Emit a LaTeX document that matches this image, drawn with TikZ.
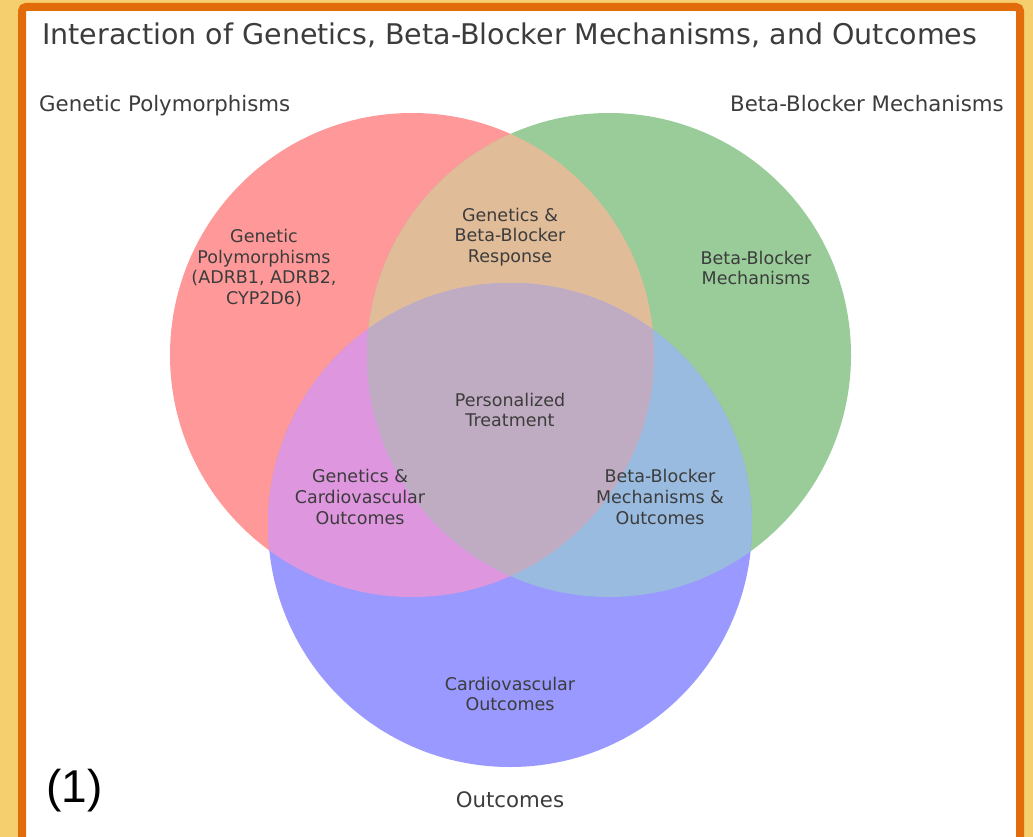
\documentclass[tikz,border=0pt]{standalone}
\usepackage{fontspec}
\setmainfont{DejaVu Sans}
\newfontfamily\numfont{Liberation Sans}
\definecolor{bgyellow}{RGB}{245,206,110}
\definecolor{frameorange}{RGB}{227,108,10}
\definecolor{cred}{RGB}{255,153,153}
\definecolor{cgreen}{RGB}{153,204,153}
\definecolor{cblue}{RGB}{153,153,255}
\definecolor{crg}{RGB}{224,188,152}
\definecolor{crb}{RGB}{222,150,223}
\definecolor{cgb}{RGB}{154,187,224}
\definecolor{cmid}{RGB}{192,172,194}
\definecolor{txt}{RGB}{60,60,60}
\tikzset{
  inner/.style={text=txt, align=center, inner sep=0pt, font=\fontsize{17.5}{20.7}\selectfont},
  outer/.style={text=txt, inner sep=0pt, font=\fontsize{21.3}{25}\selectfont},
}
\begin{document}
\begin{tikzpicture}[x=1pt,y=-1pt]
\useasboundingbox (0,0) rectangle (1033,837);
\fill[bgyellow] (0,0) rectangle (1033,837);
\draw[frameorange, line width=8pt, fill=white, rounded corners=4pt] (22,7) rectangle (1020,843);
% circles
\def\rr{242}
\coordinate (cR) at (412,355);
\coordinate (cG) at (609,355);
\coordinate (cB) at (510,525);
\fill[cred] (cR) circle (\rr);
\fill[cgreen] (cG) circle (\rr);
\fill[cblue] (cB) circle (\rr);
\begin{scope}
  \clip (cR) circle (\rr);
  \fill[crg] (cG) circle (\rr);
  \fill[crb] (cB) circle (\rr);
\end{scope}
\begin{scope}
  \clip (cG) circle (\rr);
  \fill[cgb] (cB) circle (\rr);
\end{scope}
\begin{scope}
  \clip (cR) circle (\rr);
  \clip (cG) circle (\rr);
  \fill[cmid] (cB) circle (\rr);
\end{scope}
% title and set labels
\node[text=txt, inner sep=0pt, anchor=base west, font=\fontsize{28.5}{33}\selectfont] (title) at (42,45) {Interaction of Genetics, Beta-Blocker Mechanisms, and Outcomes};
\node[outer, anchor=base west] (lgen) at (39,112) {Genetic Polymorphisms};
\node[outer, anchor=base east] (lbeta) at (1004,112) {Beta-Blocker Mechanisms};
\node[outer] (lout) at (510,800) {Outcomes};
% region labels
\node[inner] (rgen) at (264,268) {Genetic\\Polymorphisms\\(ADRB1, ADRB2,\\CYP2D6)};
\node[inner] (rgb) at (510,237) {Genetics \&\\Beta-Blocker\\Response};
\node[inner] (rbeta) at (756,268) {Beta-Blocker\\Mechanisms};
\node[inner] (rmid) at (510,410) {Personalized\\Treatment};
\node[inner] (rgo) at (360,497) {Genetics \&\\Cardiovascular\\Outcomes};
\node[inner] (rbo) at (660,497) {Beta-Blocker\\Mechanisms \&\\Outcomes};
\node[inner] (rout) at (510,694) {Cardiovascular\\Outcomes};
\node[inner sep=0pt, anchor=base west] (num) at (46,802) {\numfont\fontsize{46}{50}\selectfont (1)};
\end{tikzpicture}
\end{document}
